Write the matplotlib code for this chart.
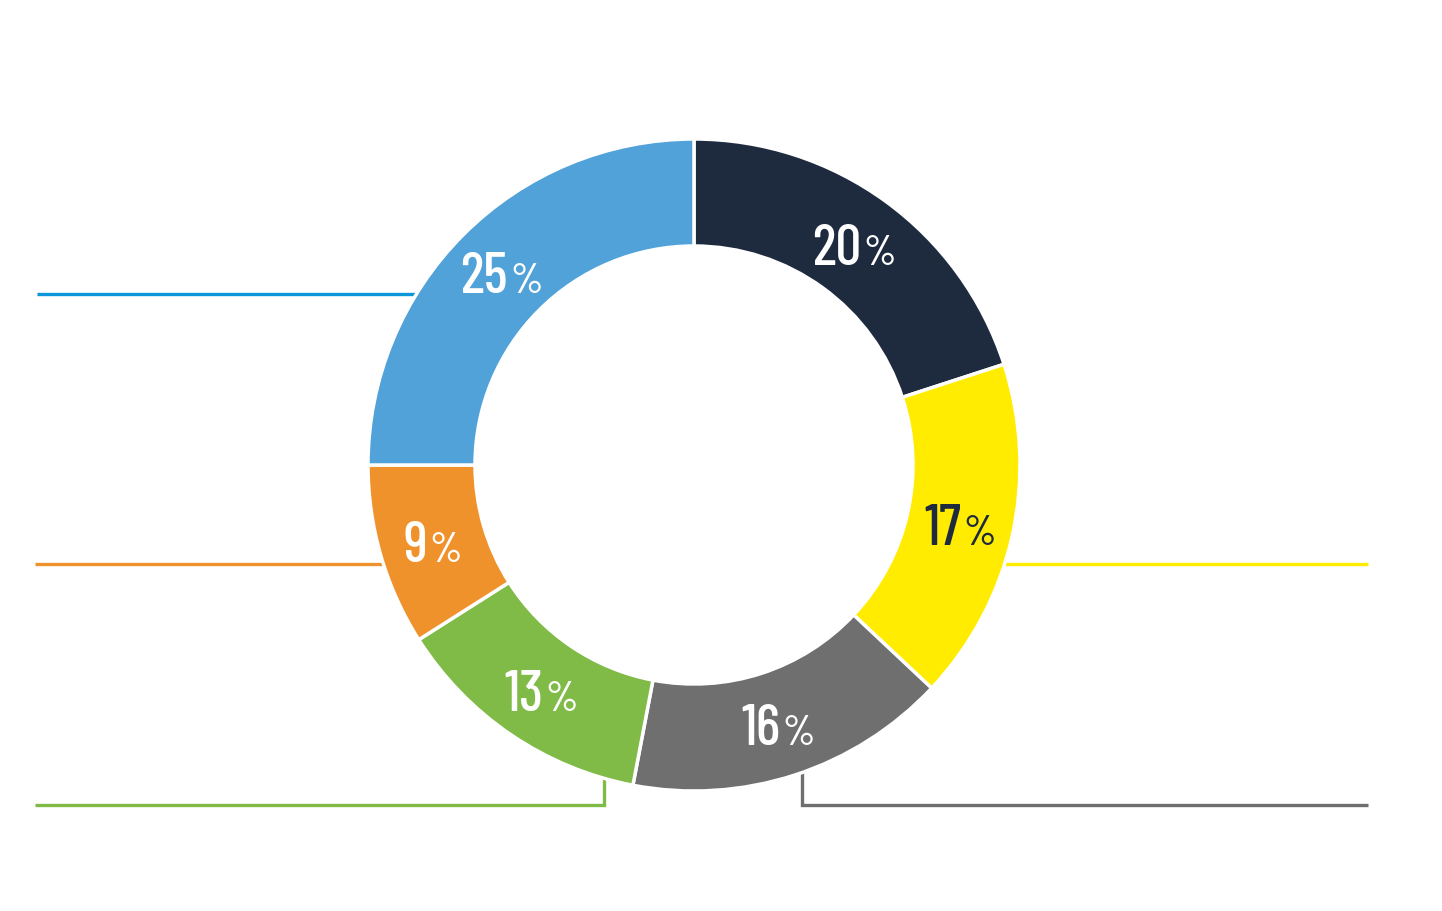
import matplotlib
matplotlib.use("Agg")
import matplotlib.pyplot as plt
import numpy as np
from matplotlib import font_manager

# ---- data ----
categories = ["A", "B", "C", "D", "E", "F"]
values = [20, 17, 16, 13, 9, 25]
slice_colors = ["#1E2B3F", "#FFEC00", "#6F6F6F", "#80BB47", "#F0922C", "#51A2D9"]
label_colors = ["white", "#1E2B3F", "white", "white", "white", "white"]
line_colors = {"F": "#0A96D8", "E": "#F0922C", "D": "#80BB47", "C": "#6F6F6F", "B": "#FFEC00"}

W, H = 1442, 912
fig = plt.figure(figsize=(W / 100, H / 100), dpi=100)
ax = fig.add_axes([0, 0, 1, 1])

avail = {f.name for f in font_manager.fontManager.ttflist}
prefs = ["Barlow Condensed", "Roboto Condensed", "Barlow Semi Condensed",
         "Saira Condensed", "PT Sans Narrow", "Liberation Sans Narrow"]
fam = [p for p in prefs if p in avail][:1] + ["DejaVu Sans"]

cx, cy = 694, H - 466
R = 326
width = 107

wedges, _ = ax.pie(values, colors=slice_colors, startangle=90, counterclock=False,
                   radius=R, center=(cx, cy), frame=True,
                   wedgeprops=dict(width=width, edgecolor="white", linewidth=2.5))
for w in wedges:
    w.set_zorder(3)
ax.set_xlim(0, W)
ax.set_ylim(0, H)
ax.set_aspect("equal")
ax.axis("off")

# ---- leader lines (layout) ----
lw = 2.4
def py(y):
    return H - y
ax.plot([37, 440], [py(295), py(295)], color=line_colors["F"], lw=lw, zorder=1, solid_capstyle="butt")
ax.plot([35, 420], [py(565), py(565)], color=line_colors["E"], lw=lw, zorder=1, solid_capstyle="butt")
ax.plot([35, 604, 604], [py(806), py(806), py(760)], color=line_colors["D"], lw=lw, zorder=1,
        solid_capstyle="butt", solid_joinstyle="miter")
ax.plot([802, 802, 1368], [py(760), py(806), py(806)], color=line_colors["C"], lw=lw, zorder=1,
        solid_capstyle="butt", solid_joinstyle="miter")
ax.plot([980, 1368], [py(565), py(565)], color=line_colors["B"], lw=lw, zorder=1, solid_capstyle="butt")

# ---- percentage labels ----
fig.canvas.draw()
renderer = fig.canvas.get_renderer()
rmid = R - width / 2
big, small = 41, 30
for w, v, lc in zip(wedges, values, label_colors):
    ang = np.deg2rad((w.theta1 + w.theta2) / 2)
    x = cx + rmid * np.cos(ang)
    y = cy + rmid * np.sin(ang)
    t1 = ax.text(x, y, f"{v}", fontsize=big, color=lc, family=fam, fontweight="medium",
                 ha="left", va="baseline", zorder=5)
    t2 = ax.text(x, y, "%", fontsize=small, color=lc, family=fam, fontweight="medium",
                 ha="left", va="baseline", zorder=5)
    b1 = t1.get_window_extent(renderer)
    b2 = t2.get_window_extent(renderer)
    gap = 2
    total = b1.width + gap + b2.width
    x0 = x - total / 2
    t1.set_x(x0)
    t2.set_x(x0 + b1.width + gap)
    capH = big / 72 * 100 * 0.70
    t1.set_y(y - capH / 2)
    t2.set_y(y - capH / 2)

fig.savefig("out.png", dpi=100, facecolor="white")
